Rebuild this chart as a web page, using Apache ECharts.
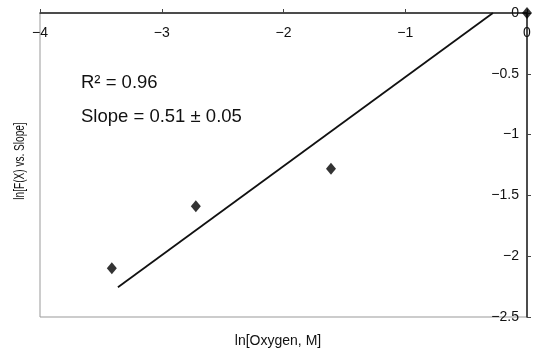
<!DOCTYPE html>
<html><head><meta charset="utf-8">
<script src="https://cdn.jsdelivr.net/npm/echarts@6/dist/echarts.min.js"></script>
<style>html,body{margin:0;padding:0;background:#fff}#c{width:535px;height:357px}</style>
</head><body><div id="c"></div>
<script>
var xTicks = [-4, -3, -2, -1, 0];
var yTicks = [0, -0.5, -1, -1.5, -2, -2.5];
var lnOxygen = [-3.41, -2.72, -1.61, 0];
var lnFX = [-2.10, -1.59, -1.28, 0];
var fitX = [-3.36, -0.28];
var fitY = [-2.255, 0];
var xName = 'ln[Oxygen, M]';
var yName = 'ln[F(X) vs. Slope]';
var notes = ['R\u00B2 = 0.96', 'Slope = 0.51 \u00B1 0.05'];

var chart = echarts.init(document.getElementById('c'));
var font = 'Liberation Sans, Arial, sans-serif';
chart.setOption({
  animation: false,
  grid: {left: 40, right: 8, top: 13, bottom: 40, show: true, borderColor: '#999', borderWidth: 1},
  xAxis: {
    type: 'value', position: 'top', min: xTicks[0], max: xTicks[xTicks.length-1], interval: 1,
    axisLine: {onZero: false, lineStyle: {color: '#222', width: 1.5}},
    axisTick: {show: true, inside: false, length: 4, lineStyle: {color: '#444'}},
    axisLabel: {inside: true, margin: 13, color: '#111', fontSize: 14, fontFamily: font,
      formatter: function(v){ return String(v).replace('-', '\u2212'); }},
    splitLine: {show: false}
  },
  yAxis: {
    type: 'value', position: 'right', min: yTicks[yTicks.length-1], max: yTicks[0], interval: 0.5,
    axisLine: {onZero: false, lineStyle: {color: '#222', width: 1.5}},
    axisTick: {show: true, inside: false, length: 4, lineStyle: {color: '#444'}},
    axisLabel: {inside: true, margin: 8, color: '#111', fontSize: 14, fontFamily: font,
      formatter: function(v){ return String(v).replace('-', '\u2212'); }},
    splitLine: {show: false}
  },
  graphic: [
    {type: 'text', left: 81, top: 73, style: {text: notes[0], fontSize: 18.5, fontFamily: font, fill: '#111'}},
    {type: 'text', left: 81, top: 107, style: {text: notes[1], fontSize: 18.5, fontFamily: font, fill: '#111'}},
    {type: 'text', x: 278, y: 341, style: {text: xName, fontSize: 14, fontFamily: font, fill: '#111', align: 'center', verticalAlign: 'middle'}},
    {type: 'text', x: 20, y: 161, rotation: Math.PI/2, scaleX: 0.72, style: {text: yName, fontSize: 14, fontFamily: font, fill: '#111', align: 'center', verticalAlign: 'middle'}}
  ],
  series: [
    {type: 'line', data: fitX.map(function(x,i){return [x, fitY[i]];}), symbol: 'none',
      lineStyle: {color: '#111', width: 1.8}, clip: false, z: 3},
    {type: 'scatter', data: lnOxygen.map(function(x,i){return [x, lnFX[i]];}), symbol: 'diamond',
      symbolSize: [10, 12], itemStyle: {color: '#000'}, clip: false, z: 4}
  ]
});
</script></body></html>
